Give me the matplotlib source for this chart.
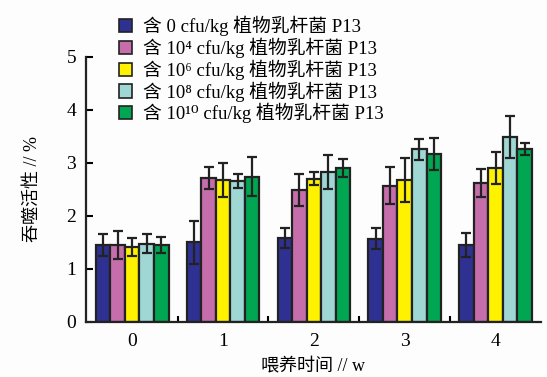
import numpy as np
import matplotlib.pyplot as plt
from matplotlib.patches import Patch

plt.rcParams['font.family'] = ['Liberation Serif', 'Noto Sans CJK SC', 'DejaVu Serif']

# 喂养时间 (周)
weeks = ['0', '1', '2', '3', '4']
series_names = [
    '含 0 cfu/kg 植物乳杆菌 P13',
    '含 10⁴ cfu/kg 植物乳杆菌 P13',
    '含 10⁶ cfu/kg 植物乳杆菌 P13',
    '含 10⁸ cfu/kg 植物乳杆菌 P13',
    '含 10¹⁰ cfu/kg 植物乳杆菌 P13',
]
# 吞噬活性 (%)
dose_0 = [1.45, 1.50, 1.58, 1.57, 1.45]
dose_4 = [1.45, 2.72, 2.49, 2.57, 2.62]
dose_6 = [1.42, 2.68, 2.70, 2.68, 2.91]
dose_8 = [1.48, 2.66, 2.83, 3.26, 3.49]
dose_10 = [1.45, 2.74, 2.91, 3.17, 3.26]
# 标准差
err_0 = [0.20, 0.40, 0.19, 0.20, 0.23]
err_4 = [0.27, 0.21, 0.30, 0.35, 0.27]
err_6 = [0.17, 0.32, 0.12, 0.41, 0.30]
err_8 = [0.17, 0.14, 0.32, 0.20, 0.40]
err_10 = [0.15, 0.37, 0.17, 0.30, 0.11]

values = [dose_0, dose_4, dose_6, dose_8, dose_10]
errors = [err_0, err_4, err_6, err_8, err_10]
colors = ['#2e3192', '#c66eac', '#fff200', '#9fd7d5', '#00a651']

fig = plt.figure(figsize=(5.47, 3.77), dpi=100)
fig.patch.set_facecolor('#fdfdfd')
ax = fig.add_axes([0.157, 0.146, 0.832, 0.703])
ax.set_facecolor('#fdfdfd')

x = np.arange(len(weeks))
w = 0.16
for i in range(5):
    ax.bar(x + (i - 2) * w, values[i], w, color=colors[i],
           edgecolor='#222222', linewidth=1.6, zorder=2)
    ax.errorbar(x + (i - 2) * w, values[i], yerr=errors[i], fmt='none',
                ecolor='#222222', elinewidth=1.6, capsize=3.5, capthick=1.6,
                zorder=3)

ax.set_xlim(-0.51, 4.5)
ax.set_ylim(0, 5)
ax.set_yticks([0, 1, 2, 3, 4, 5])
ax.set_xticks(x)
ax.set_xticklabels(weeks)
ax.set_xticks([0.5, 1.5, 2.5, 3.5], minor=True)
ax.tick_params(axis='x', which='major', length=0, pad=8, labelsize=14)
ax.tick_params(axis='x', which='minor', direction='in', length=4, width=1.5)
ax.tick_params(axis='y', direction='in', length=5, width=1.5, pad=7, labelsize=14)
for s in ['top', 'right']:
    ax.spines[s].set_visible(False)
for s in ['left', 'bottom']:
    ax.spines[s].set_linewidth(1.6)
    ax.spines[s].set_color('#222222')

ax.set_xlabel('喂养时间 // w', fontsize=13, labelpad=5)
ax.set_ylabel('吞噬活性 // %', fontsize=13, labelpad=18)

handles = [Patch(facecolor=c, edgecolor='#222222', linewidth=1.2) for c in colors]
fig.legend(handles, series_names, loc='upper left', bbox_to_anchor=(0.19, 0.998),
           frameon=False, fontsize=13.5, handlelength=0.7, handleheight=0.7,
           handletextpad=0.6, labelspacing=0.08, borderpad=0.3)

fig.savefig('out.png', dpi=100, facecolor=fig.get_facecolor())
